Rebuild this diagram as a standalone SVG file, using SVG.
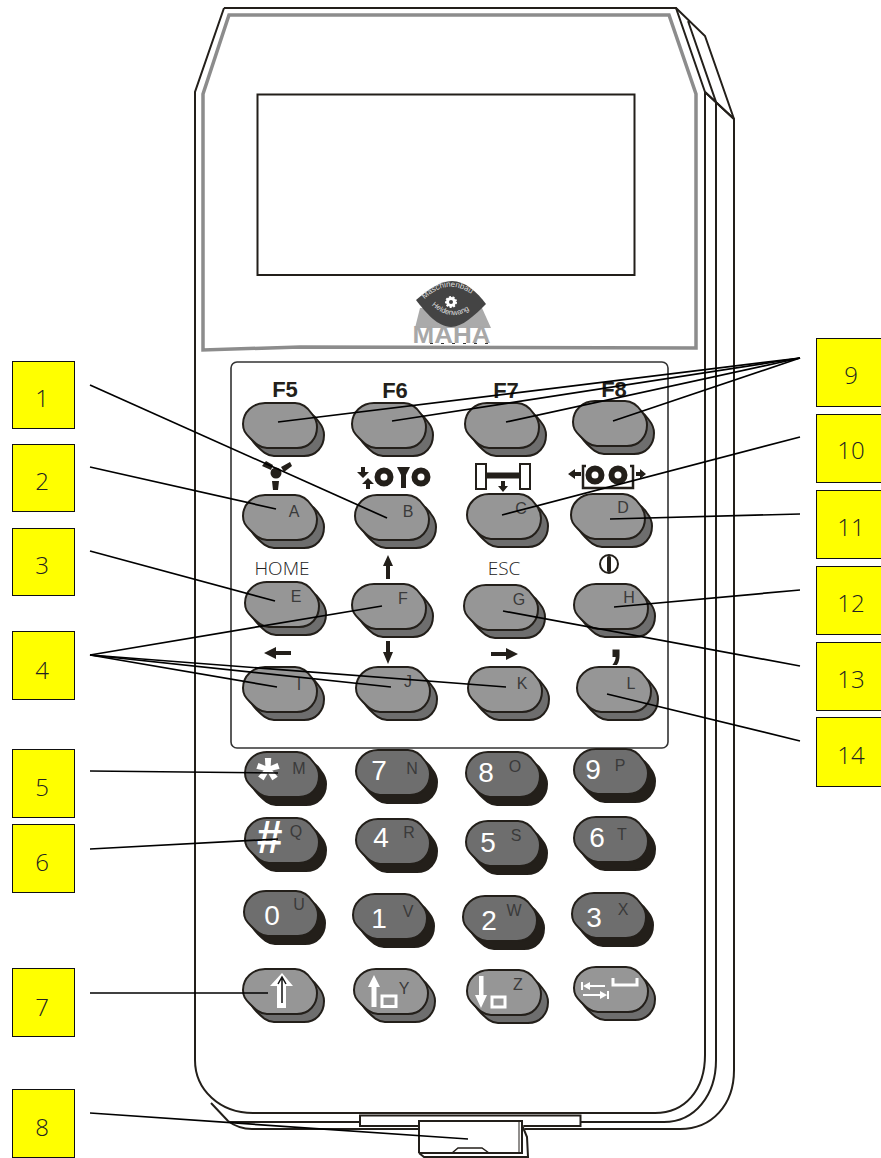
<svg xmlns="http://www.w3.org/2000/svg" width="881" height="1158" viewBox="0 0 881 1158">
<style>
text{font-family:"Liberation Sans",Arial,sans-serif}
.box rect{fill:#ffff00;stroke:#111;stroke-width:1}
.box text{font-family:"Open Sans","Liberation Sans",sans-serif;font-weight:300;font-size:24px;fill:#222;text-anchor:middle}
.o{fill:none;stroke:#231f1a;stroke-width:2}
.conn line{stroke:#000;stroke-width:1.7}
.f{font-size:22px;font-weight:bold;fill:#231f1a;text-anchor:middle}
.t{font-family:"Open Sans","Liberation Sans",sans-serif;font-weight:300;font-size:19px;fill:#222;text-anchor:middle}
.l{font-size:16px;fill:#3a3a3a;text-anchor:middle}
.d{font-size:28px;fill:#fff;text-anchor:middle}
.ic{fill:#231f1a;stroke:none}
.w{fill:#fff;stroke:none}
.ws{fill:none;stroke:#fff;stroke-width:3}
.s{stroke:#231f1a;stroke-width:2}
</style>
<defs>
<path id="sh" d="M22 0H52C60 0 65 5 69 11C73 16 74 20 74 24C74 36 66 45 54 45H24C17 45 12 40 7 35C2 30 0 27 0 21C0 9 10 0 22 0Z"/>
<g id="keyL"><use href="#sh" x="7" y="8" fill="#6e6e6e" class="s"/><use href="#sh" fill="#969696" class="s"/></g>
<g id="keyD"><use href="#sh" x="7" y="8" fill="#231f1a" class="s"/><use href="#sh" fill="#6e6e6e" class="s"/></g>
<path id="arcT" d="M421 303Q450 270 483 304"/>
<path id="arcB" d="M424 297Q452 332 482 299"/>
</defs>

<g id="body">
<path class="o" d="M224 8H676L705 92M224 8L195 92V1060C195 1090 220 1113 253 1113H655C685 1113 705 1090 705 1055V92L734 119V1070C734 1105 712 1129 680 1129H252C240 1129 232 1124 228 1121L211 1103"/>
<path class="o" d="M676 8L705 36L734 119M688 21L716 102V1060C716 1095 695 1122 664 1122H228M705 92L734 119"/>
<path d="M229 15H669L696 94V348L300 347L203 350V94Z" fill="none" stroke="#8c8c8c" stroke-width="3.500"/>
<rect x="257.500" y="94.500" width="377" height="180.500" fill="#fff" stroke="#231f1a" stroke-width="2"/>
<rect x="360" y="1115.500" width="220.500" height="10.500" fill="#fff" stroke="#231f1a" stroke-width="2"/>
<rect x="231" y="362" width="437" height="386" rx="6" fill="none" stroke="#333" stroke-width="1.600"/>
</g>

<g id="logo">
<path d="M415 328L420 308H482L491 328Z" fill="#aaa"/>
<text x="451.500" y="343" font-size="23" font-weight="bold" text-anchor="middle" fill="#a8a8a8" textLength="78" lengthAdjust="spacingAndGlyphs">MAHA</text>
<line x1="430" y1="343.500" x2="491" y2="343.500" stroke="#333" stroke-width="1" stroke-dasharray="3 8"/>
<path d="M416 300C428 290 440 281 452 281C465 281 477 292 486 304C474 316 462 327 451 327C438 327 426 313 416 300Z" fill="#444"/>
<circle cx="451" cy="302" r="5" fill="#fff" stroke="#fff" stroke-width="2" stroke-dasharray="2 1.500"/>
<circle cx="451" cy="302" r="2" fill="#444"/>
<text font-size="8" fill="#ddd"><textPath href="#arcT" startOffset="5">Maschinenbau</textPath></text>
<text font-size="7.500" fill="#ddd"><textPath href="#arcB" startOffset="11">Heldenwang</textPath></text>
</g>

<g id="latch">
<path d="M419 1121H522L527 1137L528 1157H424L419 1153Z" fill="#fff" stroke="none"/>
<path class="o" d="M419 1153V1121H522V1153H419M419 1153L424 1157H528L527 1137L522 1125"/>
<path fill="none" stroke="#231f1a" stroke-width="1" d="M519 1122V1153"/>
<path fill="none" stroke="#231f1a" stroke-width="1.500" d="M452 1153L458 1148H482L489 1153"/>
</g>

<g id="key-f5"><use href="#keyL" x="243" y="403"/><text class="f" x="285" y="397">F5</text></g>
<g id="key-f6"><use href="#keyL" x="352" y="403"/><text class="f" x="395" y="398">F6</text></g>
<g id="key-f7"><use href="#keyL" x="465" y="403"/><text class="f" x="506" y="398">F7</text></g>
<g id="key-f8"><use href="#keyL" x="573" y="401"/><text class="f" x="614" y="397">F8</text></g>

<g id="key-a"><use href="#keyL" x="243" y="495"/><text class="l" x="294" y="517">A</text>
<g class="ic"><circle cx="276" cy="473" r="5.500"/><path d="M262 466L266 461L273 465L271 470ZM281 467L290 462L292 466L284 472ZM272 481H279L278 490H273Z"/></g></g>
<g id="key-b"><use href="#keyL" x="355" y="495"/><text class="l" x="408" y="517">B</text>
<g><path class="ic" d="M361 467H365V472H369L363 478L357 472H361ZM366 489H370V484H374L368 478L362 484H366Z"/>
<circle cx="384" cy="477" r="6.500" fill="none" stroke="#231f1a" stroke-width="6"/><circle cx="421" cy="477" r="6.500" fill="none" stroke="#231f1a" stroke-width="6"/>
<path class="ic" d="M397 467H410L406 475V488H401V475Z"/></g></g>
<g id="key-c"><use href="#keyL" x="467" y="494"/><text class="l" x="521" y="514">C</text>
<g><rect x="476" y="464" width="10" height="25" fill="#fff" stroke="#231f1a" stroke-width="2"/><rect x="520" y="464" width="10" height="25" fill="#fff" stroke="#231f1a" stroke-width="2"/>
<path class="ic" d="M486 472.500H520V478.500H486ZM501 481H505V486H508L503 492L498 486H501Z"/></g></g>
<g id="key-d"><use href="#keyL" x="571" y="494"/><text class="l" x="623" y="513">D</text>
<g><path d="M586 466H583V488H633V466H630" fill="none" stroke="#231f1a" stroke-width="2.500"/>
<circle cx="595" cy="475" r="6.500" fill="none" stroke="#231f1a" stroke-width="6"/><circle cx="618" cy="475" r="6.500" fill="none" stroke="#231f1a" stroke-width="6"/>
<path class="ic" d="M568 474L575 469V472H581V476H575V479ZM646 474L640 469V472H636V476H640V479Z"/></g></g>

<g id="key-e"><use href="#keyL" x="245" y="582"/><text class="l" x="296" y="602">E</text><text class="t" x="282" y="575">HOME</text></g>
<g id="key-f"><use href="#keyL" x="352" y="584"/><text class="l" x="403" y="604">F</text><path class="ic" d="M388 555L393 566H390V579H386V566H383Z"/></g>
<g id="key-g"><use href="#keyL" x="464" y="585"/><text class="l" x="519" y="605">G</text><text class="t" x="504" y="575">ESC</text></g>
<g id="key-h"><use href="#keyL" x="574" y="584"/><text class="l" x="629" y="603">H</text><circle cx="609" cy="564" r="9" fill="none" stroke="#231f1a" stroke-width="2"/><rect x="607" y="556" width="4" height="16" rx="1.500" class="ic"/></g>

<g id="key-i"><use href="#keyL" x="243" y="667"/><text class="l" x="299" y="690">I</text><path class="ic" d="M264 653L276 647V651H291V655H276V659Z"/></g>
<g id="key-j"><use href="#keyL" x="356" y="667"/><text class="l" x="408" y="687">J</text><path class="ic" d="M388 664L383 652H386V641H390V652H393Z"/></g>
<g id="key-k"><use href="#keyL" x="468" y="667"/><text class="l" x="522" y="689">K</text><path class="ic" d="M518 654L506 648V652H491V656H506V660Z"/></g>
<g id="key-l"><use href="#keyL" x="577" y="667"/><text class="l" x="631" y="689">L</text><text x="616" y="657" font-size="50" font-weight="bold" fill="#231f1a" text-anchor="middle">,</text></g>

<g id="key-m"><use href="#keyD" x="245" y="752"/><text class="l" x="299" y="774">M</text><text x="268" y="799" font-size="60" font-weight="bold" fill="#fff" text-anchor="middle">*</text></g>
<g id="key-7"><use href="#keyD" x="356" y="750"/><text class="d" x="379" y="780">7</text><text class="l" x="412" y="774">N</text></g>
<g id="key-8"><use href="#keyD" x="466" y="752"/><text class="d" x="486" y="782">8</text><text class="l" x="515" y="772">O</text></g>
<g id="key-9"><use href="#keyD" x="574" y="749"/><text class="d" x="593" y="779">9</text><text class="l" x="620" y="771">P</text></g>

<g id="key-q"><use href="#keyD" x="245" y="818"/><text class="l" x="296" y="837">Q</text><text x="269" y="853" font-size="46" font-weight="bold" font-style="italic" fill="#fff" text-anchor="middle">#</text></g>
<g id="key-4"><use href="#keyD" x="356" y="819"/><text class="d" x="381" y="847">4</text><text class="l" x="409" y="838">R</text></g>
<g id="key-5"><use href="#keyD" x="466" y="821"/><text class="d" x="488" y="852">5</text><text class="l" x="516" y="841">S</text></g>
<g id="key-6"><use href="#keyD" x="574" y="817"/><text class="d" x="597" y="847">6</text><text class="l" x="622" y="840">T</text></g>

<g id="key-0"><use href="#keyD" x="244" y="891"/><text class="d" x="272" y="925">0</text><text class="l" x="299" y="910">U</text></g>
<g id="key-1"><use href="#keyD" x="353" y="894"/><text class="d" x="379" y="928">1</text><text class="l" x="408" y="917">V</text></g>
<g id="key-2"><use href="#keyD" x="463" y="896"/><text class="d" x="489" y="930">2</text><text class="l" x="514" y="916">W</text></g>
<g id="key-3"><use href="#keyD" x="572" y="893"/><text class="d" x="594" y="927">3</text><text class="l" x="623" y="915">X</text></g>

<g id="key-shift"><use href="#keyL" x="243" y="969"/><path class="w" d="M282 973L293 986H286V1008H277V986H270Z"/><path d="M282 1003V977M278 984L282 977L286 984" fill="none" stroke="#111" stroke-width="1.500"/></g>
<g id="key-y"><use href="#keyL" x="354" y="969"/><text class="l" x="404" y="994">Y</text><path class="w" d="M374 975L380 987H376.500V1007H371.500V987H368Z"/><rect x="382" y="996" width="14" height="10.500" class="ws"/></g>
<g id="key-z"><use href="#keyL" x="467" y="970"/><text class="l" x="518" y="990">Z</text><path class="w" d="M481 1008L475 995H479V976H483.500V995H487Z"/><rect x="492" y="997" width="13" height="10" class="ws"/></g>
<g id="key-tab"><use href="#keyL" x="574" y="967"/><path class="ws" stroke-width="2" d="M613 978V985H637V978"/><path class="w" d="M581 982H583V990H581ZM583 986L590 982V985H605V987H590V990ZM607 991H609V999H607ZM607 995L600 991V994H583V996H600V999Z"/></g>

<g class="conn" id="connectors">
<line x1="90" y1="385" x2="387" y2="518"/>
<line x1="90" y1="467" x2="276" y2="509"/>
<line x1="90" y1="551" x2="275" y2="601"/>
<line x1="90" y1="655" x2="382" y2="606"/>
<line x1="90" y1="655" x2="277" y2="687"/>
<line x1="90" y1="655" x2="391" y2="687"/>
<line x1="90" y1="655" x2="506" y2="687"/>
<line x1="90" y1="771" x2="278" y2="773"/>
<line x1="90" y1="849" x2="278" y2="839"/>
<line x1="90" y1="993" x2="268" y2="993"/>
<line x1="90" y1="1113" x2="468" y2="1139"/>
<line x1="800" y1="358" x2="278" y2="422"/>
<line x1="800" y1="358" x2="392" y2="421"/>
<line x1="800" y1="358" x2="506" y2="422"/>
<line x1="800" y1="358" x2="613" y2="421"/>
<line x1="800" y1="437" x2="502" y2="515"/>
<line x1="800" y1="514" x2="610" y2="519"/>
<line x1="800" y1="590" x2="614" y2="607"/>
<line x1="800" y1="666" x2="503" y2="611"/>
<line x1="800" y1="741" x2="607" y2="694"/>
</g>

<g class="box" id="n1"><rect x="12.500" y="361.500" width="62" height="67"/><text x="42" y="407">1</text></g>
<g class="box" id="n2"><rect x="12.500" y="444.500" width="62" height="67"/><text x="42" y="490">2</text></g>
<g class="box" id="n3"><rect x="12.500" y="528.500" width="62" height="67"/><text x="42" y="574">3</text></g>
<g class="box" id="n4"><rect x="12.500" y="631.500" width="62" height="68"/><text x="42" y="679">4</text></g>
<g class="box" id="n5"><rect x="12.500" y="749.500" width="62" height="68"/><text x="42" y="796">5</text></g>
<g class="box" id="n6"><rect x="12.500" y="824.500" width="62" height="68"/><text x="42" y="871">6</text></g>
<g class="box" id="n7"><rect x="12.500" y="968.500" width="62" height="68"/><text x="42" y="1016">7</text></g>
<g class="box" id="n8"><rect x="12.500" y="1089.500" width="62" height="68"/><text x="42" y="1136">8</text></g>
<g class="box" id="n9"><rect x="816.500" y="338.500" width="66" height="68"/><text x="851" y="384">9</text></g>
<g class="box" id="n10"><rect x="816.500" y="414.500" width="66" height="68"/><text x="851" y="459">10</text></g>
<g class="box" id="n11"><rect x="816.500" y="490.500" width="66" height="68"/><text x="851" y="536">11</text></g>
<g class="box" id="n12"><rect x="816.500" y="566.500" width="66" height="68"/><text x="851" y="612">12</text></g>
<g class="box" id="n13"><rect x="816.500" y="642.500" width="66" height="68"/><text x="851" y="688">13</text></g>
<g class="box" id="n14"><rect x="816.500" y="717.500" width="66" height="69"/><text x="851" y="764">14</text></g>
</svg>
